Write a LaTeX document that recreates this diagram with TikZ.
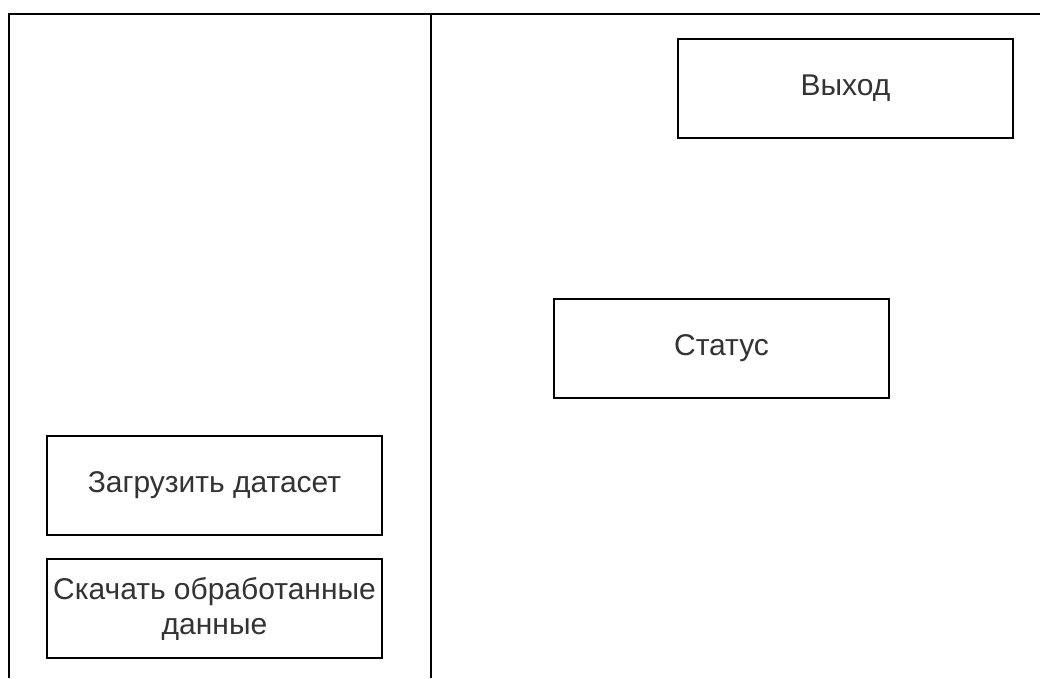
\documentclass[tikz,border=0pt]{standalone}
\usepackage{fontspec}
\setmainfont{Liberation Sans}
\begin{document}
\begin{tikzpicture}[x=1pt,y=-1pt,
  box/.style={draw=black,line width=1.8pt,fill=white,text=black!80,align=center,
    font=\fontsize{30}{35}\selectfont,inner sep=0pt},
  frame/.style={draw=black,line width=1.8pt}]
\useasboundingbox (0,0) rectangle (1040,678);
\draw[frame] (9,678) -- (9,14) -- (1040,14);
\draw[frame] (431,14) -- (431,678);
\node[box,minimum width=335pt,minimum height=99pt] (exit) at (845.5,88.5) {Выход};
\node[box,minimum width=335pt,minimum height=99pt] (status) at (721.5,348.5) {Статус};
\node[box,minimum width=335pt,minimum height=99pt] (load) at (214.5,485.5) {Загрузить датасет};
\node[box,minimum width=335pt,minimum height=99pt] (down) at (214.5,608.5) {Скачать обработанные\\данные};
\end{tikzpicture}
\end{document}
